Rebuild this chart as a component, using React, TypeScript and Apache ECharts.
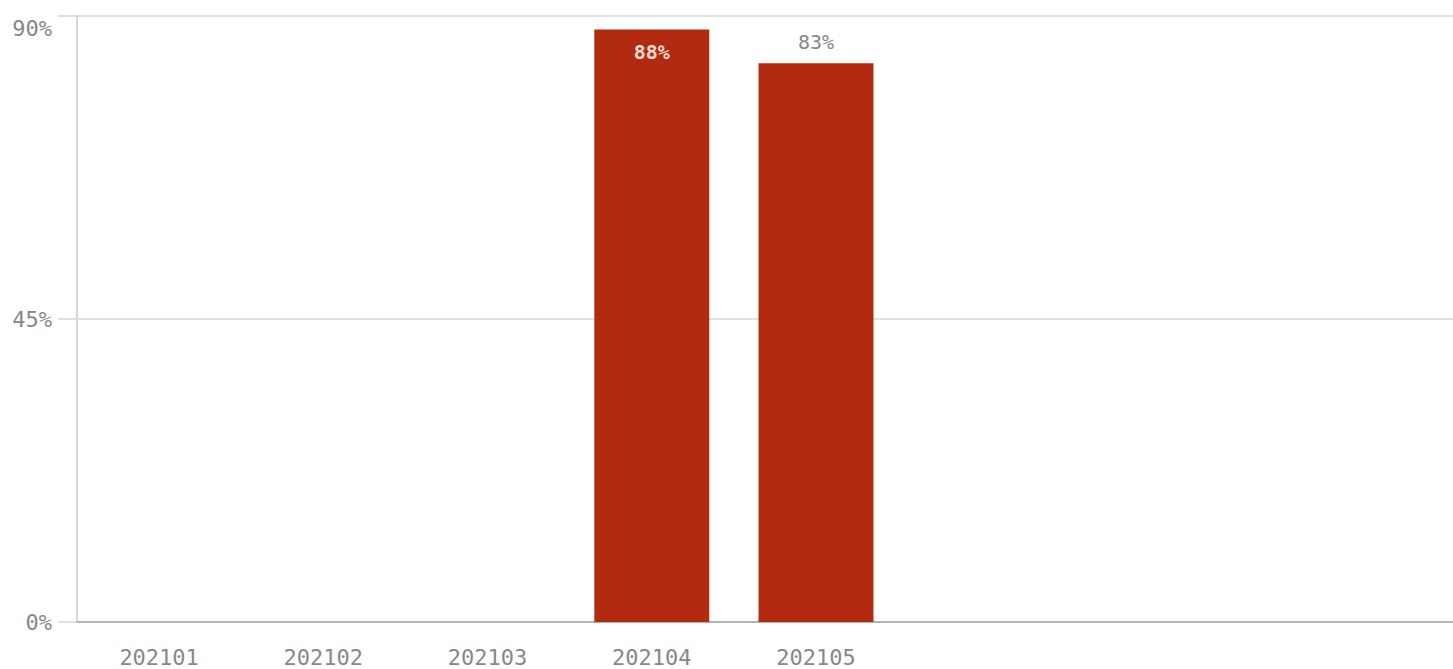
import React, { useEffect, useRef } from "react";
import * as echarts from "echarts";

const categories = ["202101", "202102", "202103", "202104", "202105"];
const values: (number | null)[] = [null, null, null, 88, 83];
const emptySlots = ["", "", "", ""];
const yTicks = [0, 45, 90];

const FONT = "DejaVu Sans Mono";

export default function App() {
  const ref = useRef<HTMLDivElement>(null);
  useEffect(() => {
    if (!ref.current) return;
    const chart = echarts.init(ref.current, null, { renderer: "svg" });
    const axisData = [...categories, ...emptySlots];
    chart.setOption({
      animation: false,
      grid: { left: 77, top: 16, bottom: 47, right: 0, containLabel: false },
      xAxis: {
        type: "category",
        data: axisData,
        boundaryGap: true,
        axisLine: { lineStyle: { color: "#b3b3b3", width: 2 } },
        axisTick: { show: false },
        axisLabel: { fontFamily: FONT, fontSize: 22, color: "#888", margin: 24 },
      },
      yAxis: {
        type: "value",
        min: yTicks[0],
        max: yTicks[yTicks.length - 1],
        interval: yTicks[1] - yTicks[0],
        axisLine: { show: true, lineStyle: { color: "#d6d6d6", width: 2 } },
        axisTick: { show: true, length: 19, lineStyle: { color: "#d6d6d6", width: 1.5 } },
        splitLine: { lineStyle: { color: "#d9d9d9", width: 1.5 } },
        axisLabel: {
          fontFamily: FONT,
          fontSize: 22,
          color: "#888",
          margin: 25,
          formatter: (v: number) => (v === yTicks[yTicks.length - 1] ? `{top|${v}%}` : `${v}%`),
          rich: {
            top: { fontFamily: FONT, fontSize: 22, color: "#888", padding: [24, 0, 0, 0] },
          },
        },
      },
      series: [
        {
          type: "bar",
          barWidth: "70%",
          itemStyle: { color: "#b22b10" },
          data: values.map((v) =>
            v === null
              ? null
              : {
                  value: v,
                  label:
                    v >= 85
                      ? { position: "insideTop", color: "#f2d9d2", distance: 13, fontWeight: "bold" }
                      : { position: "top", color: "#888", distance: 11 },
                }
          ),
          label: {
            show: true,
            fontFamily: FONT,
            fontSize: 20,
            formatter: (p: any) => `${p.value}%`,
          },
        },
      ],
    });
    return () => chart.dispose();
  }, []);
  return (
    <div
      style={{
        position: "fixed",
        left: 0,
        top: 0,
        width: 1453,
        height: 669,
        overflow: "hidden",
        background: "#fff",
      }}
    >
      <div ref={ref} style={{ width: 1555, height: 669 }} />
    </div>
  );
}
